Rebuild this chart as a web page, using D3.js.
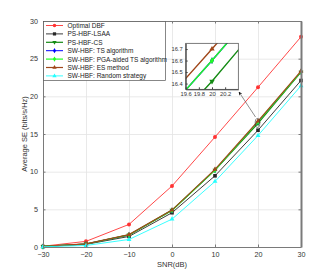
<!DOCTYPE html>
<html>
<head>
<meta charset="UTF-8"/>
<style>
  body { margin: 0; background: #fff; }
  svg { display: block; font-family: "Liberation Sans", Arial, sans-serif; }
  .grid line { stroke: #e3e3e3; stroke-width: 0.8; }
  .grid path { display: none; }
  .ax path, .ax line { stroke: #7a7a7a; }
  .ax text { fill: #333; font-size: 7.2px; }
  .inax path, .inax line { stroke: #444; }
  .inax text { fill: #333; font-size: 5.8px; }
</style>
</head>
<body>
<svg width="332" height="277"></svg>
<script src="https://cdn.jsdelivr.net/npm/d3@7"></script>
<script>
// data
const snr = [-30, -20, -10, 0, 10, 20, 30];
const optimalDBF = [0.1, 0.75, 3.0, 8.1, 14.6, 21.2, 27.9];
const psLSAA = [0.05, 0.35, 1.4, 4.55, 9.45, 15.5, 22.1];
const psCS = [0.07, 0.4, 1.6, 4.9, 10.2, 16.42, 23.2];
const swTS = [0.07, 0.4, 1.6, 4.85, 10.2, 16.6, 23.25];
const swPGA = [0.07, 0.4, 1.6, 4.85, 10.2, 16.6, 23.25];
const swES = [0.07, 0.42, 1.65, 4.9, 10.3, 16.7, 23.35];
const swRandom = [0.03, 0.2, 1.0, 3.7, 8.7, 14.8, 21.4];
const xTicks = [-30, -20, -10, 0, 10, 20, 30];
const yTicks = [0, 5, 10, 15, 20, 25, 30];
const insetXTicks = [19.6, 19.8, 20, 20.2];
const insetYTicks = [16.4, 16.5, 16.6, 16.7];

const series = [
  {name: 'Optimal DBF', v: optimalDBF, c: '#ff3333', m: 'circle', w: 0.9},
  {name: 'PS-HBF-LSAA', v: psLSAA, c: '#262626', m: 'square', w: 0.9},
  {name: 'PS-HBF-CS', v: psCS, c: '#138a13', m: 'down', w: 1.2},
  {name: 'SW-HBF: TS algorithm', v: swTS, c: '#0000ff', m: 'diamond', w: 1},
  {name: 'SW-HBF: PGA-aided TS algorithm', v: swPGA, c: '#22ff22', m: 'diamond', w: 1.2},
  {name: 'SW-HBF: ES method', v: swES, c: '#a0471a', m: 'up', w: 1.2},
  {name: 'SW-HBF: Random strategy', v: swRandom, c: '#22ffff', m: 'up', w: 0.9}
];

const svg = d3.select('svg');
const x = d3.scaleLinear().domain([-30, 30]).range([43, 301]);
const y = d3.scaleLinear().domain([0, 30]).range([247, 21]);

function marker(g, type, cx, cy, col, s) {
  if (type === 'circle') g.append('circle').attr('cx', cx).attr('cy', cy).attr('r', s * 0.55).attr('fill', col);
  else if (type === 'square') g.append('rect').attr('x', cx - s / 2).attr('y', cy - s / 2).attr('width', s).attr('height', s).attr('fill', col);
  else {
    const sym = type === 'diamond' ? d3.symbolDiamond : d3.symbolTriangle;
    const rot = type === 'down' ? 180 : 0;
    g.append('path').attr('d', d3.symbol().type(sym).size(s * s * 0.8)())
      .attr('transform', `translate(${cx},${cy}) rotate(${rot})`).attr('fill', col);
  }
}

// grid
svg.append('g').attr('class', 'grid').attr('transform', 'translate(0,247)')
  .call(d3.axisBottom(x).tickValues(xTicks).tickSize(-226).tickFormat(''));
svg.append('g').attr('class', 'grid').attr('transform', 'translate(43,0)')
  .call(d3.axisLeft(y).tickValues(yTicks).tickSize(-258).tickFormat(''));

// lines
const line = d3.line().x((d, i) => x(snr[i])).y(d => y(d));
series.forEach(s => {
  svg.append('path').attr('d', line(s.v)).attr('fill', 'none')
    .attr('stroke', s.c).attr('stroke-width', s.w);
  const g = svg.append('g');
  s.v.forEach((d, i) => marker(g, s.m, x(snr[i]), y(d), s.c, 3.6));
});

// axes (box)
svg.append('g').attr('class', 'ax').attr('transform', 'translate(0,247)')
  .call(d3.axisBottom(x).tickValues(xTicks).tickSize(-2.5).tickPadding(5).tickSizeOuter(0));
svg.append('g').attr('class', 'ax').attr('transform', 'translate(43,0)')
  .call(d3.axisLeft(y).tickValues(yTicks).tickSize(-2.5).tickPadding(5).tickSizeOuter(0));
svg.append('g').attr('class', 'ax').attr('transform', 'translate(0,21)')
  .call(d3.axisTop(x).tickValues(xTicks).tickSize(-2.5).tickFormat('').tickSizeOuter(0));
svg.append('g').attr('class', 'ax').attr('transform', 'translate(301,0)')
  .call(d3.axisRight(y).tickValues(yTicks).tickSize(-2.5).tickFormat('').tickSizeOuter(0))
  .select('path').attr('stroke', '#9a9a9a').attr('stroke-width', 2);

// axis labels
svg.append('text').attr('x', 172).attr('y', 267).attr('text-anchor', 'middle')
  .attr('font-size', 7.5).attr('fill', '#333').text('SNR(dB)');
svg.append('text').attr('transform', 'translate(27,134) rotate(-90)').attr('text-anchor', 'middle')
  .attr('font-size', 7.5).attr('fill', '#333').text('Average SE (bits/s/Hz)');

// legend
const lg = svg.append('g');
lg.append('rect').attr('x', 43.5).attr('y', 21.5).attr('width', 122).attr('height', 59)
  .attr('fill', '#fff').attr('stroke', '#555').attr('stroke-width', 0.7);
series.forEach((s, i) => {
  const ly = 25.5 + i * 8.4;
  lg.append('line').attr('x1', 46).attr('x2', 63).attr('y1', ly).attr('y2', ly)
    .attr('stroke', s.c).attr('stroke-width', s.w);
  marker(lg, s.m, 54.5, ly, s.c, 3.2);
  lg.append('text').attr('x', 67.5).attr('y', ly + 2.4).attr('font-size', 6.5)
    .attr('fill', '#222').text(s.name);
});

// zoom ellipse and arrow
svg.append('ellipse').attr('cx', x(20) - 0.5).attr('cy', y(16.6) + 1).attr('rx', 2.3).attr('ry', 4.5)
  .attr('fill', 'none').attr('stroke', '#333').attr('stroke-width', 0.6);
svg.append('defs').append('marker').attr('id', 'ah').attr('viewBox', '0 0 10 10')
  .attr('refX', 9).attr('refY', 5).attr('markerWidth', 6).attr('markerHeight', 6).attr('orient', 'auto')
  .append('path').attr('d', 'M0,0 L10,5 L0,10 L3,5 z').attr('fill', '#111');
svg.append('line').attr('x1', 255.5).attr('y1', 117).attr('x2', 239).attr('y2', 92)
  .attr('stroke', '#444').attr('stroke-width', 0.6).attr('marker-end', 'url(#ah)');

// inset
const ix = d3.scaleLinear().domain([19.6, 20.4]).range([185.7, 238.3]);
const iy = d3.scaleLinear().domain([16.35, 16.75]).range([89.3, 43.3]);
svg.append('rect').attr('x', 185.7).attr('y', 43.3).attr('width', 52.6).attr('height', 46).attr('fill', '#fff');
svg.append('clipPath').attr('id', 'inclip').append('rect')
  .attr('x', 185.7).attr('y', 43.3).attr('width', 52.6).attr('height', 46);
const ig = svg.append('g').attr('clip-path', 'url(#inclip)');
const iline = d3.line().x((d, i) => ix(snr[i])).y(d => iy(d));
series.forEach(s => {
  ig.append('path').attr('d', iline(s.v)).attr('fill', 'none')
    .attr('stroke', s.c).attr('stroke-width', 1.4);
  marker(ig, s.m, ix(20), iy(s.v[5]), s.c, 4);
});
svg.append('g').attr('class', 'inax').attr('transform', 'translate(0,89.3)')
  .call(d3.axisBottom(ix).tickValues(insetXTicks).tickSize(-2).tickPadding(3).tickSizeOuter(0)
    .tickFormat(d3.format('~g')));
svg.append('g').attr('class', 'inax').attr('transform', 'translate(185.7,0)')
  .call(d3.axisLeft(iy).tickValues(insetYTicks).tickSize(-2).tickPadding(3).tickSizeOuter(0)
    .tickFormat(d3.format('.1f')));
svg.append('rect').attr('x', 185.7).attr('y', 43.3).attr('width', 52.6).attr('height', 46)
  .attr('fill', 'none').attr('stroke', '#444').attr('stroke-width', 0.7);
</script>
</body>
</html>
